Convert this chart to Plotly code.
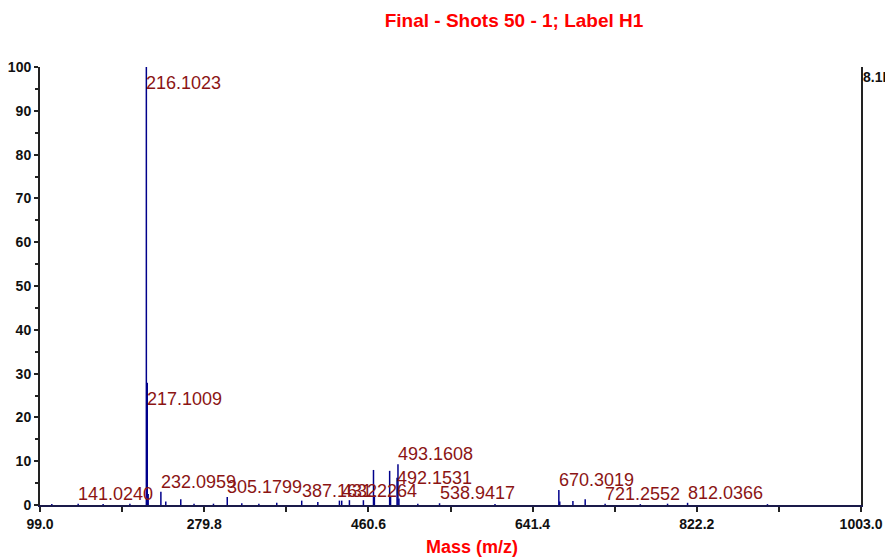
import plotly.graph_objects as go

# ---- data ----
mz = [112.0, 141.0240, 168.5, 198.0, 216.1023, 217.1009, 218.1050, 232.0959, 237.5, 254.0,
      268.6, 290.0, 305.1799, 321.2, 340.0, 359.7, 387.1632, 404.9, 428.7, 431.2264,
      439.7, 455.1, 466.2, 467.2, 484.0, 485.0, 492.1531, 493.1608, 494.2, 515.0,
      538.9417, 600.0, 670.3019, 671.3, 685.8, 699.3, 721.2552, 760.0, 790.0, 812.0366, 900.0]
intensity = [0.2, 0.3, 0.2, 0.3, 100.0, 27.9, 2.5, 3.0, 0.8, 1.3,
             0.3, 0.3, 1.8, 0.4, 0.3, 0.5, 1.0, 0.7, 1.0, 1.0,
             1.1, 1.1, 8.0, 2.0, 7.8, 2.0, 6.2, 9.3, 1.5, 0.3,
             0.4, 0.2, 3.4, 0.8, 0.9, 1.3, 0.3, 0.2, 0.3, 0.5, 0.2]

label_mz = [141.0240, 216.1023, 217.1009, 232.0959, 305.1799, 387.1632, 431.2264,
            492.1531, 493.1608, 538.9417, 670.3019, 721.2552, 812.0366]
labels_below = [216.1023, 217.1009]
labels_middle = [492.1531]

x_tick0 = 99.0
x_dtick = 180.8
x_range = [99.0, 1003.0]
y_range = [0, 100]

title_text = "Final - Shots 50 - 1; Label H1"
x_title = "Mass (m/z)"
right_text = "8.1E"

FONT = "Liberation Sans, Arial"

# ---- build stick spectrum ----
xs, ys = [], []
for m, v in zip(mz, intensity):
    xs += [m, m, None]
    ys += [0, v, None]

fig = go.Figure()
fig.add_trace(go.Scatter(x=xs, y=ys, mode="lines",
                         line=dict(color="#00008B", width=1.5),
                         hoverinfo="skip", showlegend=False))

lookup = dict(zip(mz, intensity))
for m in label_mz:
    v = lookup[m]
    if m in labels_below:
        ya, ysh = "top", -4
    elif m in labels_middle:
        ya, ysh = "middle", 0
    else:
        ya, ysh = "bottom", -2
    fig.add_annotation(x=m, y=v, xref="x", yref="y", text=f"{m:.4f}",
                       showarrow=False, xanchor="left", yanchor=ya,
                       xshift=-2, yshift=ysh,
                       font=dict(family=FONT, size=18, color="#8B1414"))

fig.add_annotation(x=1.0, y=1.0, xref="paper", yref="paper", text=f"<b>{right_text}</b>",
                   showarrow=False, xanchor="left", yanchor="top", xshift=0, yshift=0,
                   font=dict(family=FONT, size=14, color="#111111"))

fig.add_annotation(x=0.526, y=0, xref="paper", yref="paper", text=f"<b>{x_title}</b>",
                   showarrow=False, xanchor="center", yanchor="top", yshift=-30,
                   font=dict(family=FONT, size=18, color="#FF0000"))

# the page body adds an 8px margin, so the figure is sized to fill the window after it
fig.update_layout(
    width=885, height=549,
    margin=dict(l=32, r=32, t=59, b=52, autoexpand=False),
    paper_bgcolor="white", plot_bgcolor="white",
    title=dict(text=f"<b>{title_text}</b>", x=0.5718, xanchor="center", y=0.989, yanchor="top",
               automargin=False,
               font=dict(family=FONT, size=19, color="#FF0000")),
    xaxis=dict(range=x_range, tickmode="linear", tick0=x_tick0, dtick=x_dtick, tickformat=".1f",
               automargin=False,
               showgrid=False, zeroline=False, showline=True, linecolor="#1a1a4a", linewidth=2,
               ticks="outside", ticklen=5, tickwidth=1.5, tickcolor="#222",
               minor=dict(dtick=x_dtick / 2, tick0=x_tick0, ticks="outside", ticklen=5,
                          tickwidth=1.5, tickcolor="#222", showgrid=False),
               tickfont=dict(family=FONT, size=14, color="#111", weight="bold")),
    yaxis=dict(range=y_range, tickmode="linear", tick0=0, dtick=10,
               automargin=False,
               showgrid=False, zeroline=False, showline=True, linecolor="#222", linewidth=2,
               mirror=True,
               ticks="outside", ticklen=4, tickwidth=1.5, tickcolor="#222",
               minor=dict(dtick=5, ticks="outside", ticklen=3, tickwidth=1.5, tickcolor="#222",
                          showgrid=False),
               tickfont=dict(family=FONT, size=14, color="#111", weight="bold")),
)

fig.write_html("out.html")
